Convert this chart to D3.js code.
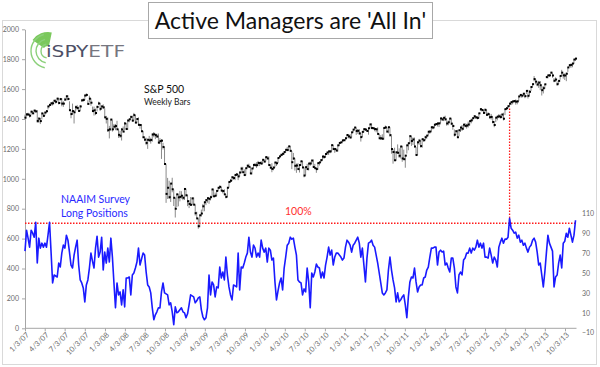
<!DOCTYPE html>
<html><head><meta charset="utf-8">
<script src="https://cdn.jsdelivr.net/npm/d3@7/dist/d3.min.js"></script>
<style>body{margin:0;background:#fff}svg{display:block}</style>
</head><body>
<svg id="c" width="600" height="367"></svg>
<script>
// ---------- DATA ----------
const titleText = "Active Managers are 'All In'";
const firstWeek = "2007-01-03";           // weekly series, one value per week
// S&P 500 weekly closes, by year
const sp2007 = [1409,1431,1430,1422,1449,1438,1456,1451,1387,1402,1386,1437,1421,1443,1452,1484,1494,1505,1505,1522,1515,1536,1507,1533,1503,1503,1530,1552,1534,1459,1433,1453,1445,1479,1474,1454,1484,1525,1527,1557,1561,1501,1536,1509,1453,1458,1440,1481,1504,1468,1484,1478];
const sp2008 = [1411,1401,1325,1331,1396,1331,1349,1353,1331,1294,1288,1330,1316,1370,1333,1390,1398,1414,1389,1426,1376,1400,1361,1360,1318,1278,1262,1240,1261,1257,1260,1296,1298,1292,1283,1242,1252,1255,1213,1099,899,940,877,968,930,873,800,896,876,879,887,873];
const sp2009 = [932,890,850,832,826,869,827,770,735,683,756,768,816,843,857,870,866,877,929,883,887,919,940,946,921,918,896,879,940,979,987,1010,1005,1026,1029,1016,1042,1068,1044,1025,1071,1087,1080,1036,1069,1093,1091,1091,1106,1106,1102,1127,1115];
const sp2010 = [1145,1136,1092,1074,1066,1075,1109,1104,1139,1150,1160,1167,1179,1194,1192,1217,1187,1111,1136,1087,1089,1065,1092,1117,1076,1022,1078,1065,1102,1102,1122,1079,1071,1065,1105,1110,1125,1149,1146,1166,1176,1183,1183,1225,1199,1199,1189,1224,1240,1244,1257,1258];
const sp2011 = [1271,1293,1284,1276,1311,1329,1343,1320,1321,1304,1279,1314,1332,1329,1320,1338,1364,1340,1338,1333,1331,1300,1271,1271,1268,1340,1344,1316,1345,1292,1199,1179,1124,1177,1174,1154,1216,1136,1131,1155,1224,1238,1285,1253,1263,1216,1159,1244,1255,1219,1265,1258];
const sp2012 = [1278,1289,1315,1316,1345,1343,1362,1366,1370,1371,1404,1397,1408,1398,1370,1378,1403,1369,1353,1295,1318,1278,1325,1343,1335,1362,1354,1356,1363,1386,1391,1406,1418,1411,1407,1438,1466,1460,1441,1461,1428,1433,1412,1414,1380,1360,1409,1416,1418,1413,1430,1402];
const sp2013 = [1466,1472,1486,1503,1513,1518,1520,1516,1518,1551,1561,1556,1569,1553,1588,1555,1582,1614,1633,1667,1650,1631,1643,1626,1593,1606,1632,1680,1692,1692,1710,1691,1656,1664,1633,1655,1688,1710,1692,1691,1703,1745,1760,1762,1771,1798,1804];
// weekly high above close
const up2007 = [20,6,12,12,6,15,6,10,72,10,20,6,16,6,8,6,8,6,12,6,15,6,30,8,36,16,12,4,25,59,22,50,15,10,20,28,10,6,12,6,10,25,20,30,30,25,30,8,12,40,6,20];
const up2008 = [60,20,85,23,6,60,18,14,57,36,33,10,34,10,40,5,3,8,33,15,50,5,50,6,47,42,20,35,7,30,15,8,15,6,19,61,20,10,28,115,198,66,110,2,77,55,73,4,20,40,30,15];
const up2009 = [2,44,40,25,52,5,48,58,45,52,4,26,16,5,8,5,10,10,1,46,21,5,4,10,25,8,34,17,1,1,12,8,10,1,10,14,7,12,36,38,1,9,21,45,2,4,15,20,14,4,17,2,15];
const up2010 = [1,14,58,22,38,6,1,10,1,1,9,7,3,1,22,1,32,75,37,50,13,40,3,3,43,54,2,35,2,13,6,50,29,10,2,2,6,1,12,1,5,6,9,3,28,8,12,1,1,3,1,4];
const up2011 = [6,3,12,23,1,1,1,23,12,28,25,2,5,10,9,1,1,30,8,10,5,45,28,21,30,1,12,28,2,53,87,20,84,5,56,50,1,84,64,3,1,1,7,31,14,60,53,5,12,36,1,10];
const up2012 = [10,3,1,5,1,8,1,5,6,3,1,12,1,24,20,12,1,35,15,35,8,50,2,3,25,1,18,12,20,3,12,2,8,10,12,2,1,8,20,10,34,12,23,20,30,25,2,4,15,18,1,40];
const up2013 = [1,3,1,1,4,1,4,15,5,1,3,8,5,17,5,40,11,4,2,20,17,18,12,28,28,14,2,8,2,3,6,15,17,15,19,3,1,19,12,15,7,2,5,8,4,3,2];
// weekly low below close
const dn2007 = [6,14,8,12,20,5,12,8,13,28,20,40,8,20,10,20,8,15,15,10,12,15,10,8,18,22,10,20,10,0,28,24,75,25,15,6,30,10,10,30,10,5,25,20,5,35,14,30,10,15,15,12];
const dn2008 = [0,31,12,61,74,15,15,28,0,20,15,74,5,45,0,63,20,16,5,37,0,28,0,25,0,6,10,15,61,5,25,48,20,27,8,5,20,122,17,0,60,75,12,123,20,55,59,85,60,30,20,16];
const dn2009 = [74,10,33,28,8,44,0,16,0,17,80,20,35,60,33,30,33,22,50,4,9,32,20,14,0,16,0,10,63,39,11,26,11,35,9,25,27,30,4,6,49,15,4,3,40,24,5,18,20,21,6,26,0];
const dn2010 = [30,5,2,3,22,18,33,18,34,11,9,10,17,19,6,25,5,46,10,32,49,4,50,30,5,12,56,0,46,15,18,4,3,25,46,21,15,27,13,23,17,24,12,40,2,25,4,42,20,7,13,5];
const dn2011 = [9,22,13,0,35,20,15,26,20,10,30,35,22,8,6,43,29,8,6,15,20,2,3,10,5,78,10,6,41,10,31,78,4,57,3,14,80,22,4,81,55,47,50,33,37,6,1,86,28,10,57,10];
const dn2012 = [20,20,25,15,30,12,20,8,20,25,30,8,22,10,15,20,26,10,25,12,25,5,40,30,15,35,10,20,20,30,20,15,12,10,10,35,12,10,6,25,6,10,10,18,10,15,30,25,12,10,25,12];
const dn2013 = [40,12,15,20,20,20,10,20,20,30,10,15,15,14,20,18,25,26,15,15,18,12,35,33,36,35,30,5,20,10,10,15,10,12,10,20,25,20,22,30,50,30,10,20,25,30,15];
// NAAIM exposure index, weekly
const naaim = [72,93,85,76,93,90,86,101,60,85, 75,80,76,80,76,88,101,71,40,48,
  47,46,60,56,70,78,75,88,83,71, 58,55,68,76,83,58,43,40,35,21,
  38,43,55,70,62,55,75,87,66,71, 86,53,71,60,75,61,85,66,40,15,
  40,28,31,18,33,16,45,45,46,28, 48,50,55,61,75,58,64,70,68,51,
  38,36,30,15,3,8,11,15,15,31, 40,30,29,28,18,20,11,-2,16,10,
  11,13,15,11,10,5,9,18,28,27, 26,20,22,25,26,13,6,3,5,15,
  48,28,41,38,26,36,35,56,45,51, 43,66,48,36,28,23,38,37,36,70,
  33,56,55,60,66,70,86,71,66,78, 75,66,70,66,83,75,71,75,61,75,
  73,63,65,41,23,32,40,45,33,55, 66,78,80,86,84,85,76,68,43,41,
  40,28,34,31,55,41,15,50,46,51, 59,56,55,45,51,45,58,66,76,68,
  73,58,66,70,70,68,66,63,65,76, 83,81,78,71,78,80,83,86,80,66,
  75,58,41,65,80,81,83,78,76,68, 60,50,40,30,28,30,33,53,66,53,
  43,35,21,30,21,23,26,28,18,5, 26,41,46,45,55,41,31,36,38,38,
  45,46,53,56,66,75,75,76,76,58, 71,73,71,72,58,60,55,51,65,65,
  55,36,30,48,51,48,63,65,70,70, 75,70,75,73,76,83,76,80,75,80,
  66,66,65,75,68,60,66,63,56,76, 81,85,80,84,84,86,105,95,93,90,
  91,85,88,81,83,78,80,75,71,76, 78,83,85,81,71,58,60,48,36,51,
  70,88,80,76,72,36,46,48,60,68, 55,80,82,90,86,95,88,81,88,103];
const xTickDates = ["2007-01-03","2007-04-03","2007-07-03","2007-10-03","2008-01-03","2008-04-03","2008-07-03","2008-10-03",
  "2009-01-03","2009-04-03","2009-07-03","2009-10-03","2010-01-03","2010-04-03","2010-07-03","2010-10-03",
  "2011-01-03","2011-04-03","2011-07-03","2011-10-03","2012-01-03","2012-04-03","2012-07-03","2012-10-03",
  "2013-01-03","2013-04-03","2013-07-03","2013-10-03"];
const leftTicks = [0,200,400,600,800,1000,1200,1400,1600,1800,2000];
const rightTicks = [-10,10,30,50,70,90,110];
const fullLevel = 100;

// ---------- BUILD ----------
const parse = d3.timeParse("%Y-%m-%d");
const spClose = [].concat(sp2007,sp2008,sp2009,sp2010,sp2011,sp2012,sp2013);
const spUp = [].concat(up2007,up2008,up2009,up2010,up2011,up2012,up2013);
const spDn = [].concat(dn2007,dn2008,dn2009,dn2010,dn2011,dn2012,dn2013);
const start = parse(firstWeek);
const weeks = d3.range(Math.max(spClose.length, naaim.length)).map(i => d3.timeWeek.offset(start, i));
const bars = spClose.map((c,i) => ({date: weeks[i], close: c, high: c + spUp[i], low: c - spDn[i]}));
const naaimData = naaim.map((v,i) => ({date: weeks[i], v}));
const ticks = xTickDates.map(parse);

const svg = d3.select("#c");
const FONT = "Lato, 'Open Sans', sans-serif";

const x = d3.scaleTime().domain([ticks[0], ticks[ticks.length-1]]).range([25, 565]);
const yL = d3.scaleLinear().domain([0, 2000]).range([328.3, 29.3]);
const yR = d3.scaleLinear().domain([-10, 110]).range([332.7, 213.3]);
const lastX = x(weeks[weeks.length-1]);

// outer frame
svg.append("rect").attr("x",2.5).attr("y",20.5).attr("width",594).attr("height",344)
  .attr("fill","#fff").attr("stroke","#d9d9d9");

// logo
const logo = svg.append("g").attr("transform","translate(48,51)");
const defs = svg.append("defs");
const grad = defs.append("radialGradient").attr("id","lg").attr("cx","0").attr("cy","0").attr("r","20")
  .attr("gradientUnits","userSpaceOnUse").attr("gradientTransform","translate(48,51)");
grad.append("stop").attr("offset","0.3").attr("stop-color","#d8f0c8");
grad.append("stop").attr("offset","1").attr("stop-color","#6cc24a");
logo.append("path").attr("d", d3.arc()({innerRadius:5, outerRadius:19, startAngle:-0.95, endAngle:0.2}))
  .attr("fill","url(#lg)").attr("opacity",0.9);
[7,12,17].forEach(r => {
  logo.append("path").attr("d", d3.arc()({innerRadius:r-0.7, outerRadius:r+0.7, startAngle:-2.95, endAngle:-0.25}))
    .attr("fill","#8bd07a");
});
const lt = svg.append("text").attr("x",46).attr("y",57).attr("font-family","'DejaVu Sans', sans-serif")
  .attr("font-size",16).attr("textLength",79).attr("lengthAdjust","spacingAndGlyphs");
lt.append("tspan").attr("fill","#4e5066").text("iSPY");
lt.append("tspan").attr("fill","#76767f").text("ETF");

// left axis
const gL = svg.append("g").attr("transform","translate(25,0)")
  .call(d3.axisLeft(yL).tickValues(leftTicks).tickSize(3).tickSizeOuter(0).tickPadding(3).tickFormat(d3.format("d")));
gL.select(".domain").attr("stroke","#a6a6a6");
gL.selectAll(".tick line").attr("stroke","#a6a6a6");
gL.selectAll("text").attr("font-family",FONT).attr("font-size",7).attr("fill","#6b6b6b");

// right axis
const gR = svg.append("g").attr("transform","translate(579,0)")
  .call(d3.axisRight(yR).tickValues(rightTicks).tickSize(0).tickPadding(3));
gR.select(".domain").remove();
gR.selectAll("text").attr("font-family",FONT).attr("font-size",7).attr("fill","#6b6b6b");

// x axis
const gX = svg.append("g").attr("transform",`translate(0,${yL(0)})`)
  .call(d3.axisBottom(x).tickValues(ticks).tickSize(3).tickFormat(d3.timeFormat("%-m/%-d/%y")));
gX.select(".domain").remove();
gX.append("line").attr("x1",25).attr("x2",lastX+1).attr("stroke","#a6a6a6");
gX.selectAll(".tick line").attr("stroke","#a6a6a6");
gX.selectAll("text").attr("font-family",FONT).attr("font-size",7.5).attr("fill","#6b6b6b")
  .attr("y",0).attr("dy",0).attr("text-anchor","end").attr("transform","translate(4,7) rotate(-45)");

// S&P weekly bars
const gB = svg.append("g");
gB.selectAll("line").data(bars).join("line")
  .attr("x1", d => x(d.date)).attr("x2", d => x(d.date))
  .attr("y1", d => yL(d.high)).attr("y2", d => yL(d.low))
  .attr("stroke","#8a8a8a").attr("stroke-width",1);
gB.selectAll("rect").data(bars).join("rect")
  .attr("x", d => x(d.date)-0.5).attr("y", d => yL(d.close)-1)
  .attr("width",2).attr("height",2).attr("fill","#000");

// 100% reference lines
const peak = naaimData.reduce((a,b) => b.v > a.v ? b : a);
const peakBar = bars.find(b => +b.date === +peak.date);
const yFull = yR(fullLevel);
const xPeak = x(peak.date);
svg.append("line").attr("x1",25).attr("x2",lastX+1).attr("y1",yFull).attr("y2",yFull)
  .attr("stroke","#ff1a1a").attr("stroke-width",1.3).attr("stroke-dasharray","1.5,1.5");
svg.append("line").attr("x1",xPeak).attr("x2",xPeak)
  .attr("y1",yL(peakBar.low)+2).attr("y2",yFull)
  .attr("stroke","#ff1a1a").attr("stroke-width",1.3).attr("stroke-dasharray","1.5,1.5");

// NAAIM line
svg.append("path").datum(naaimData)
  .attr("d", d3.line().x(d => x(d.date)).y(d => yR(d.v)))
  .attr("fill","none").attr("stroke","#1a1aff").attr("stroke-width",1.6).attr("stroke-linejoin","round");

// annotations
svg.append("text").attr("x",144).attr("y",93).attr("font-family",FONT).attr("font-size",10.5).attr("fill","#111").text("S&P 500");
svg.append("text").attr("x",144).attr("y",104.5).attr("font-family",FONT).attr("font-size",8.5).attr("fill","#222").text("Weekly Bars");
svg.append("text").attr("x",61).attr("y",203).attr("font-family",FONT).attr("font-size",10.5).attr("fill","#2a2aff").text("NAAIM Survey");
svg.append("text").attr("x",61).attr("y",217).attr("font-family",FONT).attr("font-size",10.5).attr("fill","#2a2aff").text("Long Positions");
svg.append("text").attr("x",285).attr("y",215).attr("font-family",FONT).attr("font-size",10.5).attr("fill","#ff3030").text(fullLevel + "%");

// title box
svg.append("rect").attr("x",148.5).attr("y",2.5).attr("width",284).attr("height",36)
  .attr("fill","#fff").attr("stroke","#a8a8a8");
svg.append("text").attr("x",290.5).attr("y",29).attr("text-anchor","middle").attr("font-family",FONT)
  .attr("font-size",23).attr("fill","#111").text(titleText);
</script>
</body></html>
